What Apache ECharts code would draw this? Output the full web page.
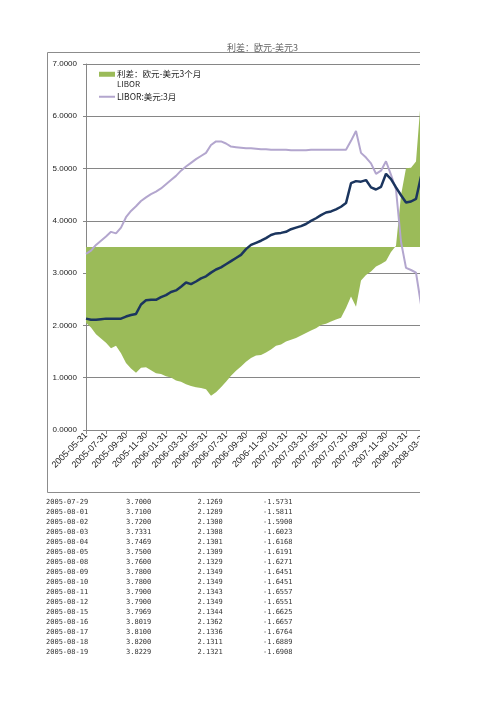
<!DOCTYPE html>
<html>
<head>
<meta charset="utf-8">
<script src="https://cdn.jsdelivr.net/npm/echarts/dist/echarts.min.js"></script>
<style>
html,body{margin:0;padding:0;background:#fff;}
#chart{width:496px;height:702px;}
</style>
</head>
<body>
<div id="chart"></div>
<script>
// Category axis: month-ends and mid-months
const dates = [
'2005-05-31','2005-06-15','2005-06-30','2005-07-15','2005-07-31','2005-08-15','2005-08-31','2005-09-15','2005-09-30','2005-10-15','2005-10-31','2005-11-15','2005-11-30','2005-12-15','2005-12-31',
'2006-01-15','2006-01-31','2006-02-15','2006-02-28','2006-03-15','2006-03-31','2006-04-15','2006-04-30','2006-05-15','2006-05-31','2006-06-15','2006-06-30','2006-07-15','2006-07-31','2006-08-15','2006-08-31','2006-09-15','2006-09-30','2006-10-15','2006-10-31','2006-11-15','2006-11-30','2006-12-15','2006-12-31',
'2007-01-15','2007-01-31','2007-02-15','2007-02-28','2007-03-15','2007-03-31','2007-04-15','2007-04-30','2007-05-15','2007-05-31','2007-06-15','2007-06-30','2007-07-15','2007-07-31','2007-08-15','2007-08-31','2007-09-15','2007-09-30','2007-10-15','2007-10-31','2007-11-15','2007-11-30','2007-12-15','2007-12-31',
'2008-01-15','2008-01-31','2008-02-15','2008-02-29','2008-03-15','2008-03-31'
];

// LIBOR: USD 3M (lavender line)
const usd3m = [
3.37,3.43,3.54,3.62,3.70,3.79,3.76,3.87,4.07,4.19,4.28,4.38,4.45,4.51,4.56,
4.62,4.70,4.78,4.86,4.96,5.04,5.11,5.18,5.24,5.30,5.45,5.52,5.52,5.48,5.42,5.41,5.40,5.39,5.39,5.38,5.37,5.37,5.36,5.36,
5.36,5.36,5.35,5.35,5.35,5.35,5.36,5.36,5.36,5.36,5.36,5.36,5.36,5.36,5.53,5.72,5.30,5.21,5.10,4.90,4.96,5.14,4.88,4.60,
3.60,3.10,3.06,3.01,2.40,2.69
];

// LIBOR: EUR 3M (navy line)
const eur3m = [
2.13,2.11,2.11,2.12,2.13,2.13,2.13,2.13,2.17,2.20,2.22,2.40,2.48,2.49,2.49,
2.54,2.58,2.64,2.67,2.74,2.82,2.79,2.84,2.90,2.94,3.01,3.07,3.11,3.17,3.23,3.29,3.35,3.46,3.54,3.58,3.62,3.67,3.73,3.76,
3.77,3.79,3.84,3.87,3.90,3.94,4.00,4.05,4.11,4.16,4.18,4.22,4.27,4.34,4.72,4.76,4.75,4.78,4.64,4.60,4.65,4.90,4.80,4.64,
4.49,4.35,4.37,4.42,4.85,4.73
];

// Spread EUR - USD 3M (green area, secondary axis)
const spread = [
-1.24,-1.32,-1.43,-1.50,-1.57,-1.66,-1.62,-1.74,-1.90,-1.99,-2.06,-1.98,-1.97,-2.02,-2.07,
-2.08,-2.12,-2.14,-2.19,-2.21,-2.25,-2.28,-2.30,-2.31,-2.33,-2.44,-2.38,-2.30,-2.21,-2.11,-2.03,-1.96,-1.88,-1.82,-1.78,-1.77,-1.73,-1.68,-1.62,
-1.60,-1.55,-1.52,-1.49,-1.45,-1.41,-1.37,-1.33,-1.28,-1.26,-1.22,-1.19,-1.16,-1.00,-0.81,-0.98,-0.55,-0.46,-0.40,-0.32,-0.28,-0.23,-0.08,0.02,
0.85,1.29,1.30,1.40,2.45,2.04
];

// Data table under the chart
const tableDates = ['2005-07-29','2005-08-01','2005-08-02','2005-08-03','2005-08-04','2005-08-05','2005-08-08','2005-08-09','2005-08-10','2005-08-11','2005-08-12','2005-08-15','2005-08-16','2005-08-17','2005-08-18','2005-08-19'];
const tableUsd = [3.7000,3.7100,3.7200,3.7331,3.7469,3.7500,3.7600,3.7800,3.7800,3.7900,3.7900,3.7969,3.8019,3.8100,3.8200,3.8229];
const tableEur = [2.1269,2.1289,2.1300,2.1308,2.1301,2.1309,2.1329,2.1349,2.1349,2.1343,2.1349,2.1344,2.1362,2.1336,2.1311,2.1321];
const tableSpread = [-1.5731,-1.5811,-1.5900,-1.6023,-1.6168,-1.6191,-1.6271,-1.6451,-1.6451,-1.6557,-1.6551,-1.6625,-1.6657,-1.6764,-1.6889,-1.6908];

const spreadName = '利差：欧元-美元3个月LIBOR';
const usdName = 'LIBOR:美元:3月';
const eurName = 'LIBOR:欧元:3月';
const titleText = '利差：欧元-美元3';

const CJK = '"Noto Sans CJK SC", "Liberation Sans", sans-serif';
const SANS = '"Liberation Sans", Arial, sans-serif';
const MONO = '"DejaVu Sans Mono", "Liberation Mono", monospace';

const graphics = [
  {type:'rect', z:0, shape:{x:47.5, y:52.5, width:430, height:440}, style:{fill:'none', stroke:'#8c8c8c', lineWidth:1}},
  {type:'text', z:10, x:227, y:52, style:{text:titleText, fontSize:9, fontFamily:CJK, fill:'#666', verticalAlign:'bottom'}},
  {type:'text', z:10, x:117, y:83.5, style:{text:'LIBOR', fontSize:8, fontFamily:CJK, fill:'#222', verticalAlign:'middle'}},
  {type:'rect', z:100, shape:{x:420, y:0, width:76, height:702}, style:{fill:'#ffffff'}}
];
const colX = [46, 126, 197.5, 263];
tableDates.forEach((d, k) => {
  const y = 502 + k * 10;
  const cells = [d, tableUsd[k].toFixed(4), tableEur[k].toFixed(4), tableSpread[k].toFixed(4)];
  cells.forEach((c, j) => {
    graphics.push({type:'text', z:10, x:colX[j], y:y, style:{text:c, fontSize:7, fontFamily:MONO, fill:'#333', verticalAlign:'middle'}});
  });
});

const chart = echarts.init(document.getElementById('chart'), null, {renderer:'canvas'});
chart.setOption({
  animation: false,
  backgroundColor: '#fff',
  grid: {left: 86, top: 64, right: 70, bottom: 272, containLabel: false},
  legend: [
    {data:[{name:spreadName, icon:'rect'}], left:99, top:70, padding:0, itemWidth:16, itemHeight:5, itemGap:4,
     formatter: () => '利差：欧元-美元3个月',
     textStyle:{fontSize:8.5, fontFamily:CJK, color:'#222', padding:[0,0,0,-3]}},
    {data:[{name:usdName, icon:'rect'}], left:99, top:92.5, padding:0, itemWidth:16, itemHeight:2, itemGap:4,
     textStyle:{fontSize:8.5, fontFamily:CJK, color:'#222', padding:[0,0,0,-3]}}
  ],
  xAxis: {
    type:'category', data:dates, boundaryGap:false,
    axisLine:{lineStyle:{color:'#868686', width:1}},
    axisTick:{interval:3, length:4, lineStyle:{color:'#868686'}},
    axisLabel:{interval:3, rotate:45, fontSize:9, color:'#222', margin:4, fontFamily:SANS},
    splitLine:{show:false}
  },
  yAxis: [
    {type:'value', min:0, max:7, interval:1,
     axisLine:{show:true, lineStyle:{color:'#868686'}},
     axisTick:{show:true, length:3, lineStyle:{color:'#868686'}},
     axisLabel:{formatter: v => v.toFixed(4), fontSize:8, color:'#222', margin:9, fontFamily:SANS},
     splitLine:{show:true, lineStyle:{color:'#868686', width:1}}},
    {type:'value', min:-3, max:3, show:false, splitLine:{show:false}}
  ],
  series: [
    {name:spreadName, type:'line', yAxisIndex:1, data:spread, symbol:'none', z:2,
     lineStyle:{width:0, color:'#9BBB59'}, itemStyle:{color:'#9BBB59'},
     areaStyle:{color:'#9BBB59', opacity:1, origin:0}},
    {name:usdName, type:'line', data:usd3m, symbol:'none', z:3,
     lineStyle:{color:'#B3A6CE', width:2}, itemStyle:{color:'#B3A6CE'}},
    {name:eurName, type:'line', data:eur3m, symbol:'none', z:4,
     lineStyle:{color:'#1B355E', width:2.5}, itemStyle:{color:'#1B355E'}}
  ],
  graphic: graphics
});
</script>
</body>
</html>
